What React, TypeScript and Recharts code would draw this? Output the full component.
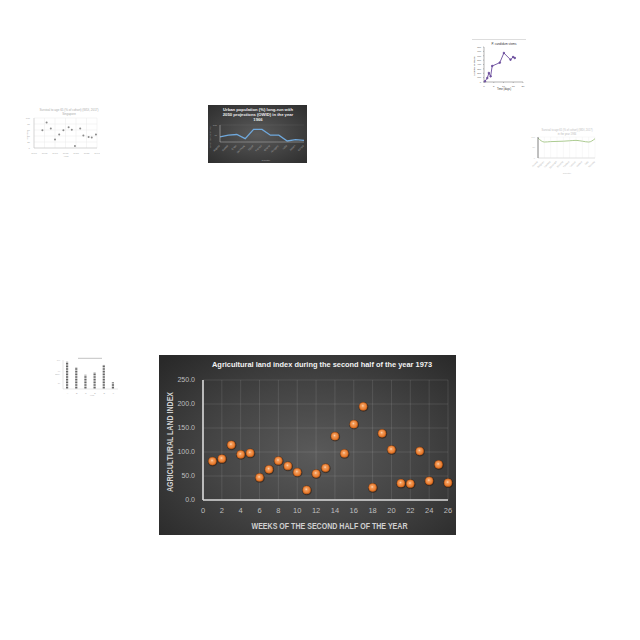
import React from 'react';
import {
  ScatterChart, Scatter, XAxis, YAxis, CartesianGrid, LineChart, Line, BarChart, Bar,
} from 'recharts';

// ---------- main chart data ----------
const weeks = [1, 2, 3, 4, 5, 6, 7, 8, 9, 10, 11, 12, 13, 14, 15, 16, 17, 18, 19, 20, 21, 22, 23, 24, 25, 26];
const landIndex = [81, 86, 115, 95, 98, 47, 64, 82, 71, 58, 21, 55, 67, 133, 97, 158, 195, 26, 139, 105, 35, 34, 102, 40, 74, 36];
const mainXTicks = [0, 2, 4, 6, 8, 10, 12, 14, 16, 18, 20, 22, 24, 26];
const mainYTicks = [0, 50, 100, 150, 200, 250];
const mainTitle = 'Agricultural land index during the second half of the year 1973';
const mainXLabel = 'WEEKS OF THE SECOND HALF OF THE YEAR';
const mainYLabel = 'AGRICULTURAL LAND INDEX';

// ---------- thumbnail A (scatter) ----------
const thumbAX = [8, 12, 16, 20, 24, 28, 33, 36, 39, 44, 47, 52, 55, 59];
const thumbAY = [59, 85, 65, 28, 45, 59, 69, 61, 7, 65, 42, 37, 35, 45];
const thumbAXTicks = [0, 10, 20, 30, 40, 50, 60];
const thumbAXLabels = ['1960', '1965', '1970', '1975', '1980', '1985', '1990'];
const thumbAYTicks = [0, 20, 40, 60, 80, 100];

// ---------- thumbnail B (dark line) ----------
const thumbBCats = ['Algeria', 'Bolivia', 'Chile', 'Denmark', 'Egypt', 'France', 'Ghana', 'Hungary', 'India', 'Japan', 'Kenya'];
const thumbBVals = [30, 40, 44, 20, 74, 74, 40, 40, 6, 14, 10];

// ---------- thumbnail C (purple line) ----------
const thumbCX = [0.5, 1.7, 2.5, 3.4, 4.2, 8.1, 10.2, 13.6, 14.9, 15.8];
const thumbCY = [15, 91, 206, 130, 366, 442, 663, 510, 571, 549];
const thumbCXTicks = [0, 5, 10, 15, 20];
const thumbCYTicks = [0, 100, 200, 300, 400, 500, 600, 700, 800];

// ---------- thumbnail D (green line) ----------
const thumbDCats = ['Austria', 'Belgium', 'Canada', 'Denmark', 'Estonia', 'Finland', 'Greece', 'Ireland', 'Italy', 'Norway'];
const thumbDVals = [95, 76, 78, 79, 80, 82, 84, 80, 76, 92];

// ---------- thumbnail E (bars) ----------
const thumbECats = ['A', 'B', 'C', 'D', 'E', 'F'];
const thumbEVals = [94, 75, 49, 57, 83, 23];

const mainData = weeks.map((w, i) => ({ week: w, value: landIndex[i] }));
const thumbAData = thumbAX.map((x, i) => ({ x, y: thumbAY[i] }));
const thumbBData = thumbBCats.map((c, i) => ({ c, v: thumbBVals[i] }));
const thumbCData = thumbCX.map((x, i) => ({ x, y: thumbCY[i] }));
const thumbDData = thumbDCats.map((c, i) => ({ c, v: thumbDVals[i] }));
const thumbEData = thumbECats.map((c, i) => ({ c, v: thumbEVals[i] }));

const FONT = '"Liberation Sans", Arial, sans-serif';
const NARROW = '"Liberation Sans Narrow", "Liberation Sans", Arial, sans-serif';

const OrangeDot = (props: any) => {
  const { cx, cy } = props;
  if (cx == null || cy == null) return null;
  return (
    <g>
      <circle cx={cx + 0.3} cy={cy + 0.5} r={4.9} fill="#2a1306" opacity={0.5} />
      <circle cx={cx} cy={cy} r={3.9} fill="url(#dotGrad)" stroke="#c85a12" strokeWidth={0.5} />
    </g>
  );
};

const GrayDot = (props: any) => {
  const { cx, cy } = props;
  if (cx == null || cy == null) return null;
  return <circle cx={cx} cy={cy} r={1} fill="#8a8a8a" />;
};

const RotTick = (props: any) => {
  const { x, y, payload, fill, size } = props;
  return (
    <text x={x} y={y + 1} transform={`rotate(-45 ${x} ${y + 1})`} textAnchor="end" fontSize={size || 2.5} fill={fill || '#999'} fontFamily={FONT}>
      {payload.value}
    </text>
  );
};

function MainChart() {
  return (
    <div
      style={{
        position: 'absolute', left: 159, top: 355, width: 297, height: 180,
        background: 'radial-gradient(ellipse 70% 75% at 52% 55%, #5a5a5a 0%, #444 50%, #292929 100%)',
      }}
    >
      <ScatterChart width={297} height={180} margin={{ top: 25, right: 8, bottom: 0, left: 0 }}>
        <CartesianGrid stroke="#ffffff" strokeOpacity={0.13} strokeWidth={0.8} />
        <XAxis
          type="number" dataKey="week" domain={[0, 26]} ticks={mainXTicks} height={35}
          tickLine={false} axisLine={{ stroke: '#d9d9d9', strokeWidth: 1.6 }}
          tick={{ fill: '#bfbfbf', fontSize: 7.5, fontFamily: FONT }} interval={0}
        />
        <YAxis
          type="number" dataKey="value" domain={[0, 250]} ticks={mainYTicks} width={44}
          tickLine={false} axisLine={{ stroke: '#d9d9d9', strokeWidth: 1.6 }}
          tick={{ fill: '#bfbfbf', fontSize: 7, fontFamily: FONT }}
          tickFormatter={(v: number) => v.toFixed(1)} interval={0}
        />
        <Scatter data={mainData} shape={OrangeDot} isAnimationActive={false} />
      </ScatterChart>
      <svg width={297} height={180} style={{ position: 'absolute', left: 0, top: 0, pointerEvents: 'none' }}>
        <text x={163} y={12} textAnchor="middle" fontSize={7.5} fontWeight="bold" fill="#f2f2f2" fontFamily={FONT}
          textLength={220} lengthAdjust="spacingAndGlyphs">{mainTitle}</text>
        <text x={170.5} y={173.5} textAnchor="middle" fontSize={8.5} fontWeight="bold" fill="#d0d0d0" fontFamily={NARROW}
          textLength={156} lengthAdjust="spacingAndGlyphs">{mainXLabel}</text>
        <text x={13.5} y={87} textAnchor="middle" fontSize={8.5} fontWeight="bold" fill="#d0d0d0" fontFamily={NARROW}
          transform="rotate(-90 13.5 87)" textLength={100} lengthAdjust="spacingAndGlyphs">{mainYLabel}</text>
      </svg>
    </div>
  );
}

function ThumbA() {
  return (
    <div style={{ position: 'absolute', left: 25, top: 105, width: 75, height: 55 }}>
      <ScatterChart width={75} height={55} margin={{ top: 13, right: 3, bottom: 0, left: 0 }}>
        <CartesianGrid stroke="#e6e6e6" strokeWidth={0.4} />
        <XAxis type="number" dataKey="x" domain={[0, 60]} ticks={thumbAXTicks} height={12} interval={0}
          tickFormatter={(v: number) => thumbAXLabels[v / 10]} tickLine={false} tickSize={2}
          axisLine={{ stroke: '#bbb', strokeWidth: 0.5 }} tick={{ fill: '#aaa', fontSize: 2.5, fontFamily: FONT }} />
        <YAxis type="number" dataKey="y" domain={[0, 100]} ticks={thumbAYTicks} width={9} interval={0}
          tickLine={false} tickSize={2} axisLine={{ stroke: '#bbb', strokeWidth: 0.5 }}
          tick={{ fill: '#aaa', fontSize: 2.5, fontFamily: FONT }} />
        <Scatter data={thumbAData} shape={GrayDot} isAnimationActive={false} />
      </ScatterChart>
      <svg width={75} height={55} style={{ position: 'absolute', left: 0, top: 0, pointerEvents: 'none' }}>
        <text x={44} y={6} textAnchor="middle" fontSize={3} fill="#aaa" fontFamily={FONT}>Survival to age 65 (% of cohort) (WDI, 2017)</text>
        <text x={44} y={10} textAnchor="middle" fontSize={3} fill="#aaa" fontFamily={FONT}>Singapore</text>
        <text x={41} y={52} textAnchor="middle" fontSize={2.5} fill="#aaa" fontFamily={FONT}>Year</text>
        <text x={3} y={30} textAnchor="middle" fontSize={2.5} fill="#aaa" fontFamily={FONT} transform="rotate(-90 3 30)">Survival</text>
      </svg>
    </div>
  );
}

function ThumbB() {
  return (
    <div style={{
      position: 'absolute', left: 208, top: 105, width: 99, height: 58,
      background: 'radial-gradient(ellipse at center, #5a5a5a 0%, #3f3f3f 60%, #2e2e2e 100%)',
    }}>
      <LineChart width={99} height={58} data={thumbBData} margin={{ top: 20, right: 3, bottom: 0, left: 0 }}>
        <CartesianGrid stroke="#ffffff" strokeOpacity={0.15} strokeWidth={0.4} vertical={false} />
        <XAxis dataKey="c" height={21} interval={0} tickLine={false} tickSize={1}
          axisLine={{ stroke: '#aaa', strokeWidth: 0.5 }} tick={<RotTick fill="#aaa" size={2.6} />} />
        <YAxis domain={[0, 100]} ticks={[0, 20, 40, 60, 80, 100]} width={12} tickLine={false} tickSize={1}
          axisLine={{ stroke: '#bbb', strokeWidth: 0.6 }} tick={{ fill: '#aaa', fontSize: 2.5, fontFamily: FONT }} />
        <Line dataKey="v" stroke="#6fa8dc" strokeWidth={1.3} dot={false} isAnimationActive={false} />
      </LineChart>
      <svg width={99} height={58} style={{ position: 'absolute', left: 0, top: 0, pointerEvents: 'none' }}>
        <text x={50} y={6} textAnchor="middle" fontSize={4.2} fontWeight="bold" fill="#eee" fontFamily={FONT}>Urban population (%) long-run with</text>
        <text x={50} y={11} textAnchor="middle" fontSize={4.2} fontWeight="bold" fill="#eee" fontFamily={FONT}>2050 projections (OWID) in the year</text>
        <text x={50} y={16} textAnchor="middle" fontSize={4.2} fontWeight="bold" fill="#eee" fontFamily={FONT}>1966</text>
        <text x={58} y={56} textAnchor="middle" fontSize={2.5} fill="#aaa" fontFamily={FONT}>Country</text>
        <text x={3} y={32} textAnchor="middle" fontSize={2.3} fill="#aaa" fontFamily={FONT} transform="rotate(-90 3 32)">Urban population (%)</text>
      </svg>
    </div>
  );
}

function ThumbC() {
  return (
    <div style={{ position: 'absolute', left: 472, top: 39, width: 54, height: 57, borderTop: '0.5px solid #ddd' }}>
      <LineChart width={54} height={57} data={thumbCData} margin={{ top: 7, right: 3, bottom: 0, left: 0 }}>
        <XAxis type="number" dataKey="x" domain={[0, 20]} ticks={thumbCXTicks} height={15} interval={0}
          tickSize={1} axisLine={{ stroke: '#666', strokeWidth: 0.5 }} tickLine={{ stroke: '#666', strokeWidth: 0.4 }}
          tick={{ fill: '#555', fontSize: 2.5, fontFamily: FONT }} />
        <YAxis type="number" domain={[0, 800]} ticks={thumbCYTicks} width={12} interval={0}
          tickSize={1} axisLine={{ stroke: '#666', strokeWidth: 0.5 }} tickLine={{ stroke: '#666', strokeWidth: 0.4 }}
          tick={{ fill: '#555', fontSize: 2.3, fontFamily: FONT }} />
        <Line dataKey="y" stroke="#6a4c9c" strokeWidth={0.9} dot={{ r: 0.8, fill: '#6a4c9c', stroke: '#6a4c9c' }} isAnimationActive={false} />
      </LineChart>
      <svg width={54} height={57} style={{ position: 'absolute', left: 0, top: 0, pointerEvents: 'none' }}>
        <text x={32} y={5} textAnchor="middle" fontSize={3} fill="#333" fontFamily={FONT}>P. candidum stems</text>
        <text x={32} y={50} textAnchor="middle" fontSize={2.7} fill="#333" fontFamily={FONT}>Time (days)</text>
        <text x={3} y={26} textAnchor="middle" fontSize={2.5} fill="#333" fontFamily={FONT} transform="rotate(-90 3 26)">Number of stems</text>
      </svg>
    </div>
  );
}

function ThumbD() {
  return (
    <div style={{ position: 'absolute', left: 530, top: 126, width: 70, height: 50 }}>
      <LineChart width={70} height={50} data={thumbDData} margin={{ top: 11, right: 5, bottom: 0, left: 0 }}>
        <CartesianGrid stroke="#eee" strokeWidth={0.4} />
        <XAxis dataKey="c" height={18} interval={0} tickLine={false} tickSize={1}
          axisLine={{ stroke: '#ccc', strokeWidth: 0.5 }} tick={<RotTick fill="#bbb" size={2.4} />} />
        <YAxis domain={[0, 100]} ticks={[0, 50, 100]} width={8} tickLine={false} tickSize={1}
          axisLine={{ stroke: '#666', strokeWidth: 0.8 }} tick={{ fill: '#bbb', fontSize: 2.2, fontFamily: FONT }} />
        <Line dataKey="v" type="monotone" stroke="#a3c585" strokeWidth={0.9} dot={false} isAnimationActive={false} />
      </LineChart>
      <svg width={70} height={50} style={{ position: 'absolute', left: 0, top: 0, pointerEvents: 'none' }}>
        <text x={37} y={5} textAnchor="middle" fontSize={2.6} fill="#bbb" fontFamily={FONT}>Survival to age 65 (% of cohort) (WDI, 2017)</text>
        <text x={37} y={8.5} textAnchor="middle" fontSize={2.6} fill="#bbb" fontFamily={FONT}>in the year 1984</text>
        <text x={37} y={48} textAnchor="middle" fontSize={2.4} fill="#bbb" fontFamily={FONT}>Country</text>
      </svg>
    </div>
  );
}

function ThumbE() {
  return (
    <div style={{ position: 'absolute', left: 55, top: 355, width: 68, height: 42 }}>
      <BarChart width={68} height={42} data={thumbEData} margin={{ top: 5, right: 5, bottom: 0, left: 0 }}>
        <XAxis dataKey="c" height={8} interval={0} tickLine={false} tickSize={1}
          axisLine={{ stroke: '#ccc', strokeWidth: 0.5 }} tick={{ fill: '#aaa', fontSize: 2.2, fontFamily: FONT }} />
        <YAxis domain={[0, 100]} ticks={[0, 20, 40, 60, 80, 100]} width={8} tickLine={false} tickSize={1}
          axisLine={{ stroke: '#ccc', strokeWidth: 0.5 }} tick={{ fill: '#bbb', fontSize: 2, fontFamily: FONT }} />
        <Bar dataKey="v" barSize={2.2} fill="url(#barStripes)" isAnimationActive={false} />
      </BarChart>
      <svg width={68} height={42} style={{ position: 'absolute', left: 0, top: 0, pointerEvents: 'none' }}>
        <line x1={23} y1={3.3} x2={47} y2={3.3} stroke="#999" strokeWidth={0.6} />
        <text x={37} y={40.5} textAnchor="middle" fontSize={2.2} fill="#aaa" fontFamily={FONT}>Year</text>
        <text x={2} y={20} textAnchor="middle" fontSize={2.2} fill="#aaa" fontFamily={FONT}>Value</text>
      </svg>
    </div>
  );
}

export default function App() {
  return (
    <div style={{ position: 'absolute', left: 0, top: 0, width: 640, height: 640, background: '#ffffff', overflow: 'hidden' }}>
      <svg width={0} height={0} style={{ position: 'absolute' }}>
        <defs>
          <radialGradient id="dotGrad" cx="45%" cy="42%" r="60%">
            <stop offset="0%" stopColor="#fcd5b2" />
            <stop offset="30%" stopColor="#f39a58" />
            <stop offset="100%" stopColor="#e2701f" />
          </radialGradient>
          <pattern id="barStripes" width="3" height="1.6" patternUnits="userSpaceOnUse">
            <rect width="3" height="1" fill="#555" />
          </pattern>
        </defs>
      </svg>
      <ThumbA />
      <ThumbB />
      <ThumbC />
      <ThumbD />
      <ThumbE />
      <MainChart />
    </div>
  );
}
